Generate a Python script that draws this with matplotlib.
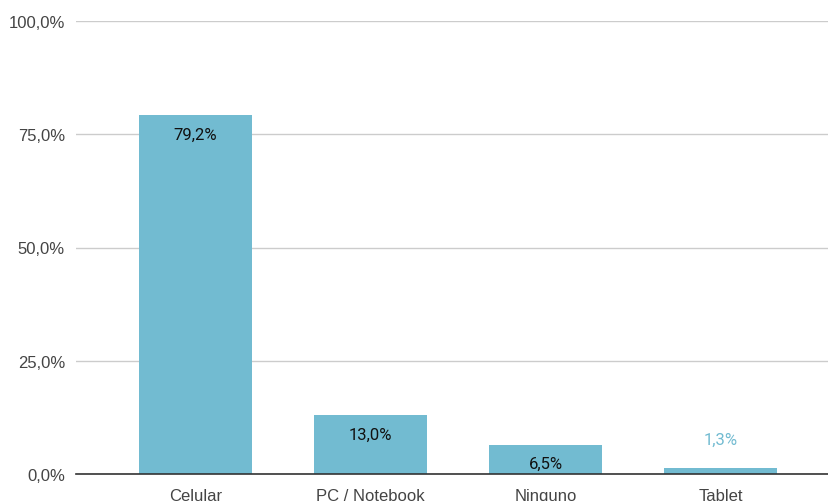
import matplotlib.pyplot as plt
from matplotlib.ticker import FuncFormatter

plt.rcParams['font.family'] = ['Liberation Sans', 'DejaVu Sans']

categories = ['Celular', 'PC / Notebook', 'Ninguno', 'Tablet']
values = [79.2, 13.0, 6.5, 1.3]
y_ticks = [0, 25, 50, 75, 100]

bar_color = '#72bbd1'


def pct(v, pos=None):
    return ('%.1f%%' % v).replace('.', ',')


def main():
    fig = plt.figure(figsize=(8.29, 5.02), dpi=100)
    ax = fig.add_axes([76 / 829, 27 / 502, 1 - 76 / 829, 453 / 502])

    x = list(range(len(categories)))
    ax.bar(x, values, width=0.646, color=bar_color, zorder=3)

    # etiquetas de datos
    for xi, v in zip(x, values):
        if v > 5:
            ax.annotate(pct(v), (xi, v), xytext=(0, -13.5), textcoords='offset points',
                        ha='center', va='center', fontsize=12, family='Roboto',
                        color='#111111', zorder=4)
        else:
            ax.annotate(pct(v), (xi, v), xytext=(0, 20.5), textcoords='offset points',
                        ha='center', va='center', fontsize=12, family='Roboto',
                        color=bar_color, zorder=4)

    ax.set_xlim(-0.683, 3.62)
    ax.set_ylim(0, 100)
    ax.set_yticks(y_ticks)
    ax.yaxis.set_major_formatter(FuncFormatter(pct))
    ax.set_xticks(x)
    ax.set_xticklabels(categories)

    ax.grid(axis='y', color='#cccccc', linewidth=1, zorder=0)
    for s in ['top', 'right', 'left']:
        ax.spines[s].set_visible(False)
    ax.spines['bottom'].set_color('#333333')
    ax.spines['bottom'].set_linewidth(1.2)
    ax.spines['bottom'].set_zorder(5)

    ax.tick_params(axis='both', length=0, labelsize=12, labelcolor='#444444')
    ax.tick_params(axis='y', pad=8)
    ax.tick_params(axis='x', pad=10)

    fig.savefig('out.png', dpi=100)


if __name__ == '__main__':
    main()
